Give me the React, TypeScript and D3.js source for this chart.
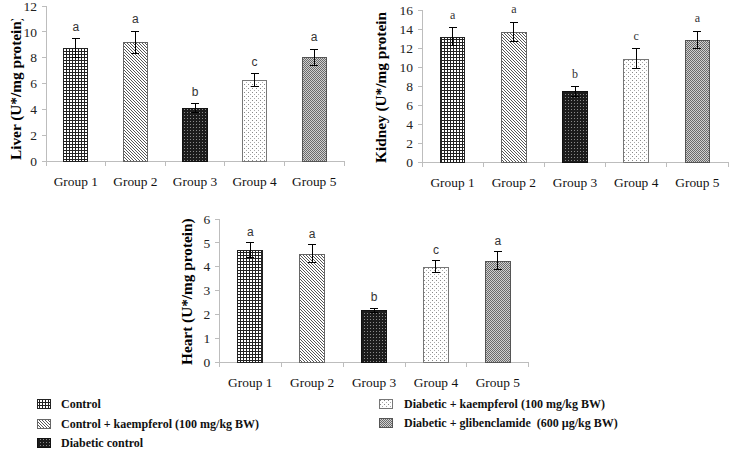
import * as d3 from 'd3';

const groups = ['Group 1', 'Group 2', 'Group 3', 'Group 4', 'Group 5'];
const letters = ['a', 'a', 'b', 'c', 'a'];

const liverMeans = [8.75, 9.2, 4.08, 6.27, 8.05];
const liverErr = [0.7, 0.85, 0.35, 0.5, 0.62];

const kidneyMeans = [13.2, 13.7, 7.45, 10.9, 12.85];
const kidneyErr = [0.95, 1.0, 0.5, 1.05, 0.9];

const heartMeans = [4.7, 4.55, 2.17, 4.0, 4.25];
const heartErr = [0.3, 0.37, 0.1, 0.26, 0.38];

const legendLeft = ['Control', 'Control + kaempferol (100 mg/kg BW)', 'Diabetic control'];
const legendRight = ['Diabetic + kaempferol (100 mg/kg BW)', 'Diabetic + glibenclamide  (600 µg/kg BW)'];

const FILLS = ['url(#pGrid)', 'url(#pDiag)', 'url(#pDark)', 'url(#pDots)', 'url(#pChk)'];
const STROKES = ['#222', '#666', '#111', '#777', '#555'];

const SERIF = '"Liberation Serif", "Times New Roman", serif';
const SANS = '"Liberation Sans", Arial, sans-serif';

interface PanelProps {
  id: string;
  label: string;
  means: number[];
  errs: number[];
  max: number;
  step: number;
  x0: number;
  x1: number;
  yTop: number;
  yBottom: number;
  labelX: number;
  labelY: number;
  clipTop: number;
  letterFont: string;
  letterGap: number;
}

function Panel(p: PanelProps) {
  const x = d3.scaleBand<string>().domain(groups).range([p.x0, p.x1]).paddingInner(0.58).paddingOuter(0.29);
  const y = d3.scaleLinear().domain([0, p.max]).range([p.yBottom, p.yTop]);
  const ticks = d3.range(0, p.max + p.step / 2, p.step);
  const step = x.step();
  const bounds = d3.range(groups.length + 1).map(i => p.x0 + i * step);

  return (
    <g>
      <defs>
        <clipPath id={`clip-${p.id}`}>
          <rect x={0} y={p.clipTop} width={733} height={451} />
        </clipPath>
      </defs>
      {/* axes */}
      <line x1={p.x0} x2={p.x0} y1={p.yTop} y2={p.yBottom} stroke="#bdbdbd" />
      <line x1={p.x0} x2={p.x1} y1={p.yBottom + 0.5} y2={p.yBottom + 0.5} stroke="#bdbdbd" />
      {ticks.map(t => (
        <g key={t}>
          <line x1={p.x0 - 4} x2={p.x0} y1={y(t)} y2={y(t)} stroke="#bdbdbd" />
          <text x={p.x0 - 9} y={y(t)} dy="0.35em" textAnchor="end" fontFamily={SERIF} fontSize={13.5} fill="#222">
            {t}
          </text>
        </g>
      ))}
      {bounds.map((b, i) => (
        <line key={i} x1={b} x2={b} y1={p.yBottom} y2={p.yBottom + 5} stroke="#bdbdbd" />
      ))}
      {groups.map((g, i) => {
        const bx = x(g)!;
        const cx = bx + x.bandwidth() / 2;
        const top = y(p.means[i] + p.errs[i]);
        const bot = y(p.means[i] - p.errs[i]);
        return (
          <g key={g}>
            <rect
              x={bx + 0.5}
              y={y(p.means[i]) + 0.5}
              width={x.bandwidth() - 1}
              height={p.yBottom - y(p.means[i]) - 0.5}
              fill={FILLS[i]}
              stroke={STROKES[i]}
              strokeWidth={1}
            />
            <line x1={cx} x2={cx} y1={top} y2={bot} stroke="#000" />
            <line x1={cx - 4} x2={cx + 4} y1={top} y2={top} stroke="#000" />
            <line x1={cx - 4} x2={cx + 4} y1={bot} y2={bot} stroke="#000" />
            <text x={cx} y={top - p.letterGap} textAnchor="middle" fontFamily={p.letterFont} fontSize={12} fill="#333">
              {letters[i]}
            </text>
            <text x={cx} y={p.yBottom + 25} textAnchor="middle" fontFamily={SERIF} fontSize={13.4} fill="#111">
              {g}
            </text>
          </g>
        );
      })}
      <g clipPath={`url(#clip-${p.id})`}>
        <text
          transform={`translate(${p.labelX},${p.labelY}) rotate(-90)`}
          fontFamily={SERIF}
          fontWeight="bold"
          fontSize={15.3}
          fill="#000"
        >
          {p.label}
        </text>
      </g>
    </g>
  );
}

function Patterns() {
  return (
    <defs>
      <pattern id="pGrid" patternUnits="userSpaceOnUse" width={3} height={3}>
        <rect width={3} height={3} fill="#fff" />
        <rect width={3} height={1} fill="#222" />
        <rect width={1} height={3} fill="#222" />
      </pattern>
      <pattern id="pDiag" patternUnits="userSpaceOnUse" width={3} height={3}>
        <rect width={3} height={3} fill="#fff" />
        <path d="M0,0 L3,3 M-1,2 L1,4 M2,-1 L4,1" stroke="#444" strokeWidth={0.9} />
      </pattern>
      <pattern id="pDark" patternUnits="userSpaceOnUse" width={3} height={3}>
        <rect width={3} height={3} fill="#1c1c1c" />
        <rect x={1} y={1} width={1} height={1} fill="#8a8a8a" />
      </pattern>
      <pattern id="pDots" patternUnits="userSpaceOnUse" width={4} height={4}>
        <rect width={4} height={4} fill="#fff" />
        <rect x={0} y={0} width={1} height={1} fill="#888" />
        <rect x={2} y={2} width={1} height={1} fill="#aaa" />
      </pattern>
      <pattern id="pChk" patternUnits="userSpaceOnUse" width={2} height={2}>
        <rect width={2} height={2} fill="#d0d0d0" />
        <rect x={0} y={0} width={1} height={1} fill="#6a6a6a" />
        <rect x={1} y={1} width={1} height={1} fill="#6a6a6a" />
      </pattern>
    </defs>
  );
}

export default function App() {
  const leftRows = [404, 423.5, 443];
  const rightRows = [403.5, 423];
  return (
    <svg
      width={733}
      height={451}
      style={{ position: 'absolute', left: 0, top: 0, background: '#fff' }}
      shapeRendering="crispEdges"
    >
      <Patterns />
      <rect width={733} height={451} fill="#fff" />
      <Panel
        id="liver"
        label="Liver (U*/mg protein)"
        means={liverMeans}
        errs={liverErr}
        max={12}
        step={2}
        x0={46}
        x1={344}
        yTop={6}
        yBottom={161}
        labelX={20.5}
        labelY={160}
        clipTop={19}
        letterFont={SANS}
        letterGap={8}
      />
      <Panel
        id="kidney"
        label="Kidney (U*/mg protein)"
        means={kidneyMeans}
        errs={kidneyErr}
        max={16}
        step={2}
        x0={422}
        x1={728}
        yTop={10}
        yBottom={162.3}
        labelX={386}
        labelY={163}
        clipTop={12}
        letterFont={SERIF}
        letterGap={9}
      />
      <Panel
        id="heart"
        label="Heart (U*/mg protein)"
        means={heartMeans}
        errs={heartErr}
        max={6}
        step={1}
        x0={219.3}
        x1={528.8}
        yTop={219}
        yBottom={362.3}
        labelX={192}
        labelY={365}
        clipTop={0}
        letterFont={SANS}
        letterGap={7}
      />
      {legendLeft.map((t, i) => (
        <g key={t}>
          <rect x={37.5} y={leftRows[i] - 4.5} width={13} height={9} fill={FILLS[i]} stroke={STROKES[i]} />
          <text x={61} y={leftRows[i] + 4} fontFamily={SERIF} fontWeight="bold" fontSize={12} fill="#111" style={{ whiteSpace: 'pre' }}>
            {t}
          </text>
        </g>
      ))}
      {legendRight.map((t, i) => (
        <g key={t}>
          <rect x={379.5} y={rightRows[i] - 4.5} width={13} height={9} fill={FILLS[i + 3]} stroke={STROKES[i + 3]} />
          <text x={404} y={rightRows[i] + 4} fontFamily={SERIF} fontWeight="bold" fontSize={12} fill="#111" style={{ whiteSpace: 'pre' }}>
            {t}
          </text>
        </g>
      ))}
    </svg>
  );
}
